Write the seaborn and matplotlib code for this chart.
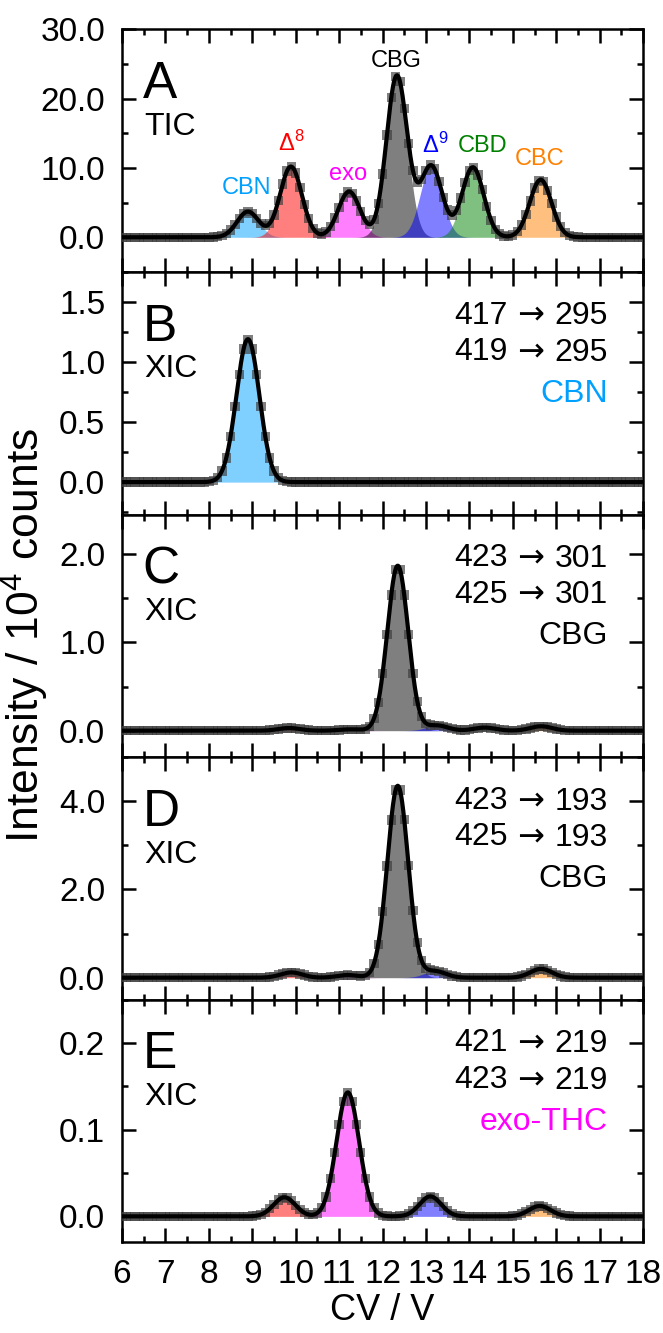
import numpy as np
import matplotlib
matplotlib.use("Agg")
import matplotlib.pyplot as plt
import seaborn as sns
from matplotlib.ticker import MultipleLocator, FormatStrFormatter

# ---------------- data: Gaussian peak parameters (10^4 counts) ----------------
cv_min, cv_max = 6.0, 18.0

species_colors = {"CBN": "#00A0FF", "D8": "#FF0000", "exo": "#FF00FF", "CBG": "#000000",
                  "D9": "#0000FF", "CBD": "#008000", "CBC": "#FF8000"}

A_species = ["CBN", "D8", "exo", "CBG", "D9", "CBD", "CBC"]
A_centers = [8.90, 9.89, 11.23, 12.33, 13.12, 14.08, 15.64]
A_heights = [3.7, 10.2, 6.6, 23.3, 10.3, 10.1, 8.3]
A_sigmas = [0.25, 0.25, 0.25, 0.24, 0.25, 0.25, 0.25]

B_species = ["CBN"]
B_centers = [8.90]
B_heights = [1.19]
B_sigmas = [0.265]

C_species = ["D8", "exo", "CBG", "D9", "CBD", "CBC"]
C_centers = [9.85, 11.25, 12.35, 13.25, 14.35, 15.65]
C_heights = [0.03, 0.015, 1.87, 0.06, 0.035, 0.05]
C_sigmas = [0.25, 0.25, 0.24, 0.25, 0.25, 0.25]

D_species = ["D8", "exo", "CBG", "D9", "CBC"]
D_centers = [9.90, 11.20, 12.35, 13.20, 15.65]
D_heights = [0.12, 0.06, 4.35, 0.15, 0.20]
D_sigmas = [0.25, 0.25, 0.24, 0.25, 0.25]

E_species = ["D8", "exo", "D9", "CBC"]
E_centers = [9.74, 11.20, 13.10, 15.62]
E_heights = [0.022, 0.143, 0.023, 0.012]
E_sigmas = [0.25, 0.26, 0.25, 0.25]

# peak labels in panel A
A_label_text = ["CBN", "Δ$^{8}$", "exo", "CBG", "Δ$^{9}$", "CBD", "CBC"]
A_label_x = [8.87, 9.89, 11.20, 12.32, 13.21, 14.31, 15.62]
A_label_y = [6.2, 12.5, 8.3, 24.5, 12.2, 12.3, 10.45]

panel_letters = ["A", "B", "C", "D", "E"]
panel_kinds = ["TIC", "XIC", "XIC", "XIC", "XIC"]
transition_parent = [None, [["417", "295"], ["419", "295"]],
                     [["423", "301"], ["425", "301"]],
                     [["423", "193"], ["425", "193"]],
                     [["421", "219"], ["423", "219"]]]
target_names = [None, "CBN", "CBG", "CBG", "exo-THC"]
target_colors = [None, "#00A0FF", "#000000", "#000000", "#FF00FF"]

ylims = [(-5, 30), (-0.27, 1.75), (-0.3, 2.45), (-0.5, 5.0), (-0.03, 0.25)]
y_major = [10, 0.5, 1.0, 2.0, 0.1]
y_minor = [5, 0.25, 0.5, 1.0, 0.05]

# ---------------- style ----------------
sns.set_theme(style="ticks")
plt.rcParams["font.family"] = ["Liberation Sans", "DejaVu Sans"]
plt.rcParams["mathtext.fontset"] = "custom"
plt.rcParams["mathtext.rm"] = "Liberation Sans"
plt.rcParams["mathtext.it"] = "Liberation Sans:italic"
plt.rcParams["axes.linewidth"] = 1.8
plt.rcParams["axes.edgecolor"] = "black"
plt.rcParams["text.color"] = "black"
plt.rcParams["axes.labelcolor"] = "black"
plt.rcParams["xtick.color"] = "black"
plt.rcParams["ytick.color"] = "black"

fig, axes = plt.subplots(5, 1, figsize=(6.63, 13.33), dpi=100, sharex=True)
fig.subplots_adjust(left=0.184, right=0.970, top=0.978, bottom=0.068, hspace=0)

x_fine = np.linspace(cv_min, cv_max, 1201)
x_pts = np.round(np.arange(cv_min, cv_max + 1e-9, 0.1), 2)

panels = [
    (A_species, A_centers, A_heights, A_sigmas),
    (B_species, B_centers, B_heights, B_sigmas),
    (C_species, C_centers, C_heights, C_sigmas),
    (D_species, D_centers, D_heights, D_sigmas),
    (E_species, E_centers, E_heights, E_sigmas),
]


def gauss(x, c, h, s):
    return h * np.exp(-((x - c) ** 2) / (2 * s ** 2))


def transition_text(ax, y, left, right, fs):
    t1 = ax.text(0.933, y, right, transform=ax.transAxes, fontsize=fs, ha="right", va="bottom")
    t2 = ax.annotate(" → ", xy=(0, 0), xycoords=t1, ha="right", va="bottom", fontsize=fs,
                     family=["DejaVu Sans"])
    ax.annotate(left, xy=(0, 0), xycoords=t2, ha="right", va="bottom", fontsize=fs,
                xytext=(0, 0.6), textcoords="offset points")


for i, (ax, (sp, cen, hei, sig)) in enumerate(zip(axes, panels)):
    total_f = np.zeros_like(x_fine)
    total_p = np.zeros_like(x_pts)
    for s_name, c, h, w in zip(sp, cen, hei, sig):
        comp = gauss(x_fine, c, h, w)
        total_f += comp
        total_p += gauss(x_pts, c, h, w)
        ax.fill_between(x_fine, 0, comp, color=species_colors[s_name], alpha=0.5, lw=0, zorder=2)
    sns.scatterplot(x=x_pts, y=total_p, ax=ax, marker="s", s=45, color="#3a3a3a",
                    alpha=0.65, edgecolor="none", zorder=3, legend=False)
    sns.lineplot(x=x_fine, y=total_f, ax=ax, color="black", lw=3, zorder=4)

    ax.set_xlim(cv_min, cv_max)
    ax.set_ylim(*ylims[i])
    ax.xaxis.set_major_locator(MultipleLocator(1))
    ax.xaxis.set_minor_locator(MultipleLocator(0.5))
    ax.yaxis.set_major_locator(MultipleLocator(y_major[i]))
    ax.yaxis.set_minor_locator(MultipleLocator(y_minor[i]))
    ax.yaxis.set_major_formatter(FormatStrFormatter("%.1f"))
    ax.tick_params(which="major", direction="in", length=10, width=1.8, top=True, right=True,
                   labelsize=24, pad=12, colors="black")
    ax.tick_params(which="minor", direction="in", length=4.5, width=1.8, top=True, right=True)
    for sp_ in ax.spines.values():
        sp_.set_linewidth(1.8)
        sp_.set_color("black")
    ax.set_ylabel("")
    ax.set_xlabel("")

    ax.text(0.040, 0.717, panel_letters[i], transform=ax.transAxes, fontsize=37,
            ha="left", va="baseline")
    ax.text(0.043, 0.565, panel_kinds[i], transform=ax.transAxes, fontsize=23,
            ha="left", va="baseline")
    if transition_parent[i] is not None:
        transition_text(ax, 0.755, transition_parent[i][0][0], transition_parent[i][0][1], 23)
        transition_text(ax, 0.605, transition_parent[i][1][0], transition_parent[i][1][1], 23)
        ax.text(0.933, 0.465, target_names[i], transform=ax.transAxes, fontsize=23,
                ha="right", va="baseline", color=target_colors[i])

for lab, sp_name, lx, ly in zip(A_label_text, A_species, A_label_x, A_label_y):
    col = species_colors[sp_name]
    axes[0].text(lx, ly, lab, fontsize=17, ha="center", va="baseline", color=col)

for ax in axes[:-1]:
    ax.tick_params(labelbottom=False)

axes[-1].set_xticks(np.arange(6, 19, 1))
axes[-1].set_xticklabels([str(v) for v in range(6, 19)])

fig.text(0.037, 0.5235, "Intensity / 10$^{4}$ counts", rotation=90, ha="center", va="center", fontsize=32)
fig.text(0.577, 0.004, "CV / V", ha="center", va="bottom", fontsize=26)

fig.savefig("out.png", dpi=100)
